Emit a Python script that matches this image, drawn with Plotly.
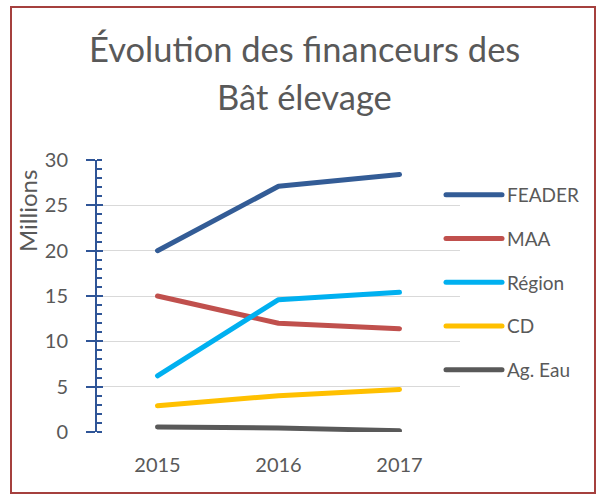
import plotly.graph_objects as go

years = ["2015", "2016", "2017"]
series_names = ["FEADER", "MAA", "Région", "CD", "Ag. Eau"]
feader = [20.0, 27.1, 28.4]
maa = [15.0, 12.0, 11.4]
region = [6.2, 14.6, 15.4]
cd = [2.9, 4.0, 4.7]
ag_eau = [0.55, 0.45, 0.15]
y_ticks = [0, 5, 10, 15, 20, 25, 30]

values = [feader, maa, region, cd, ag_eau]
colors = ["#335C96", "#C0504D", "#00B0F0", "#FFC000", "#595959"]

FONT = "Lato, Open Sans, sans-serif"
GREY = "#595959"
W, H = 597, 498
L, R, T, B = 97, 0, 160, 66
PLOT_RIGHT = 460
PAPER_W = W - L - R
PH = H - T - B


def px_x(x):
    return (x - L) / PAPER_W


def px_y(y):
    return (H - y - B) / PH


fig = go.Figure()
for i, (name, vals, col) in enumerate(zip(series_names, values, colors)):
    fig.add_trace(go.Scatter(
        x=years, y=vals, name=name, mode="lines",
        line=dict(color=col, width=5),
        legendgroup=f"g{i}",
    ))

# invisible trace for the secondary axis (inside part of major ticks)
fig.add_trace(go.Scatter(x=years, y=[None, None, None], yaxis="y2",
                         showlegend=False, hoverinfo="skip"))

fig.update_layout(
    width=W, height=H,
    margin=dict(l=L, r=R, t=T, b=B),
    paper_bgcolor="white", plot_bgcolor="white",
    font=dict(family=FONT, color=GREY),
    showlegend=True,
    legend=dict(
        x=px_x(441), xanchor="left", y=px_y(176), yanchor="top",
        font=dict(size=19, color=GREY, family=FONT),
        tracegroupgap=16, itemwidth=56,
        bgcolor="rgba(0,0,0,0)", borderwidth=0,
    ),
    xaxis=dict(
        type="category", range=[-0.5, 2.5],
        domain=[0, px_x(PLOT_RIGHT)],
        showgrid=False, showline=False, zeroline=False,
        ticks="", tickfont=dict(size=20, color=GREY, family=FONT),
        ticklabelstandoff=19,
    ),
    yaxis=dict(
        range=[0, 30], tickvals=y_ticks,
        showgrid=True, gridcolor="#D9D9D9", gridwidth=1,
        zeroline=False,
        showline=True, linecolor="#2F5597", linewidth=2,
        ticks="outside", ticklen=9, tickwidth=2, tickcolor="#2F5597",
        tickfont=dict(size=20, color=GREY, family=FONT),
        ticklabelstandoff=14,
        minor=dict(dtick=1, ticks="inside", ticklen=5, tickwidth=2,
                   tickcolor="#2F5597", showgrid=False),
    ),
    yaxis2=dict(
        range=[0, 30], tickvals=y_ticks, overlaying="y", side="left",
        showgrid=False, zeroline=False, showline=False,
        ticks="inside", ticklen=6, tickwidth=2, tickcolor="#2F5597",
        showticklabels=False,
    ),
    annotations=[
        dict(text="Évolution des financeurs des", xref="paper", yref="paper",
             x=px_x(304), xanchor="center", y=px_y(49), yanchor="middle",
             showarrow=False, font=dict(size=34.5, color=GREY, family=FONT)),
        dict(text="Bât élevage", xref="paper", yref="paper",
             x=px_x(304), xanchor="center", y=px_y(97), yanchor="middle",
             showarrow=False, font=dict(size=34.5, color=GREY, family=FONT)),
        dict(text="Millions", xref="paper", yref="paper",
             x=px_x(27), xanchor="center", y=px_y(211),
             yanchor="middle", textangle=-90, showarrow=False,
             font=dict(size=24, color=GREY, family=FONT)),
    ],
    shapes=[
        dict(type="rect", xref="paper", yref="paper",
             x0=px_x(11), x1=px_x(595),
             y0=px_y(493), y1=px_y(7),
             line=dict(color="#A5403E", width=2), fillcolor="rgba(0,0,0,0)",
             layer="above"),
    ],
)

post = """
document.body.style.margin='0';
function roundCaps(){
  document.querySelectorAll('.scatterlayer .js-line, .legendlines path').forEach(function(p){
    p.style.strokeLinecap='round'; p.style.strokeLinejoin='round';
  });
}
roundCaps();
var gd=document.getElementsByClassName('plotly-graph-div')[0];
if(gd && gd.on){ gd.on('plotly_afterplot', roundCaps); }
"""

fig.write_html("out.html", post_script=post,
               config={"displayModeBar": False})
